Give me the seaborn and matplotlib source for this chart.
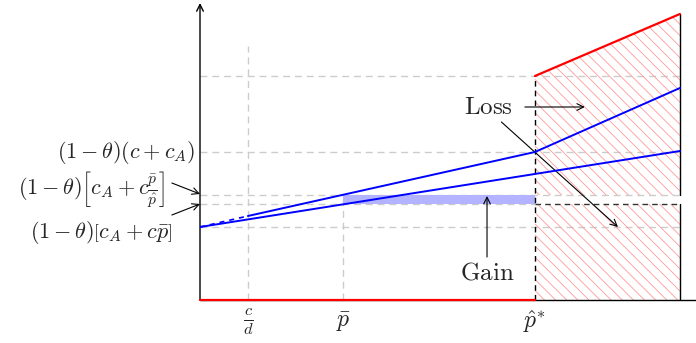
import matplotlib
matplotlib.use("Agg")
import matplotlib.pyplot as plt
import seaborn as sns

# x positions (p axis), hat p* = 1
x_cd = 0.143
x_pbar = 0.427
x_phat = 1.0
x_end = 1.433

# y levels
y_start = 0.73          # (1-theta) c_A
y_low_pbar = 0.96       # (1-theta)[c_A + c pbar]
y_up_pbar = 1.05        # (1-theta)[c_A + c pbar/phat]
y_phat = 1.48           # (1-theta)(c + c_A)
y_red_left = 2.24
y_red_right = 2.86

# series
upper_dash_x = [0.0, x_cd]
upper_dash_y = [y_start, 0.84]
upper_x = [x_cd, x_phat, x_end]
upper_y = [0.84, y_phat, 2.12]
lower_x = [0.0, x_end]
lower_y = [y_start, 1.49]
red_top_x = [x_phat, x_end]
red_top_y = [y_red_left, y_red_right]

tick_pos = [x_cd, x_pbar, x_phat]
tick_labels = [r"$\frac{c}{d}$", r"$\bar{p}$", r"$\hat{p}^{*}$"]

sns.set_theme(style="white")
plt.rcParams["mathtext.fontset"] = "cm"
plt.rcParams["hatch.linewidth"] = 0.6

fig = plt.figure(figsize=(6.96, 3.43), dpi=100)
ax = fig.add_axes([200 / 696, 43 / 343, 496 / 696, 300 / 343])
ax.set_xlim(0, 1.481)
ax.set_ylim(0, 3.0)
ax.axis("off")

grey = "#cccccc"
gdash = dict(color=grey, lw=1, dashes=(5, 3.5), zorder=1)

# grid guides
for yv in [y_red_left, y_phat, y_up_pbar, y_start]:
    ax.plot([0, x_end], [yv, yv], **gdash)
ax.plot([0, x_phat], [y_low_pbar, y_low_pbar], **gdash)
ax.plot([x_cd, x_cd], [0, 2.54], **gdash)
ax.plot([x_pbar, x_pbar], [0, y_up_pbar], **gdash)

# hatched loss regions
ax.fill([x_phat, x_end, x_end, x_phat],
        [y_red_left, y_red_right, y_up_pbar, y_up_pbar],
        facecolor="none", edgecolor="#ff9a9a", hatch="\\\\\\", lw=0, zorder=2)
ax.fill([x_phat, x_end, x_end, x_phat],
        [y_low_pbar, y_low_pbar, 0, 0],
        facecolor="none", edgecolor="#ff9a9a", hatch="\\\\\\", lw=0, zorder=2)

# gain band
ax.fill_between([x_pbar, x_phat], y_low_pbar, y_up_pbar,
                color="#b3b3ff", lw=0, zorder=3)

# region borders
ax.plot([x_phat, x_phat], [0, y_red_left], color="black", lw=1,
        dashes=(4, 3), zorder=4)
ax.plot([x_phat, x_end], [y_low_pbar, y_low_pbar], color="#333333", lw=1,
        dashes=(4, 3), zorder=4)
ax.plot([x_end, x_end], [y_up_pbar, y_red_right], color="black", lw=1, zorder=4)
ax.plot([x_end, x_end], [0, y_low_pbar], color="black", lw=1, zorder=4)

# axes
ax.plot([0, 1.481], [0, 0], color="black", lw=1, zorder=4, clip_on=False)
ax.annotate("", xy=(0, 2.97), xytext=(0, 0),
            arrowprops=dict(arrowstyle="->", lw=1, color="black",
                            shrinkA=0, shrinkB=0), annotation_clip=False)
ax.plot([0, x_phat], [0, 0], color="red", lw=1.6, zorder=5, clip_on=False)
sns.lineplot(x=red_top_x, y=red_top_y, color="red", lw=1.6, ax=ax,
             sort=False, estimator=None, zorder=5)

# blue lines
sns.lineplot(x=lower_x, y=lower_y, color="blue", lw=1.4, ax=ax,
             sort=False, estimator=None, zorder=6)
sns.lineplot(x=upper_x, y=upper_y, color="blue", lw=1.4, ax=ax,
             sort=False, estimator=None, zorder=6)
ax.plot(upper_dash_x, upper_dash_y, color="blue", lw=1.2, dashes=(3, 3),
        zorder=6)

fs = 16
for xp, lab in zip(tick_pos, tick_labels):
    ax.text(xp, -0.22, lab, ha="center", va="center", fontsize=17)

# left labels
ax.text(-0.015, y_phat, r"$(1-\theta)(c+c_A)$", ha="right", va="center",
        fontsize=fs)
ax.text(-0.105, 1.10, r"$(1-\theta)\left[c_A+c\frac{\bar{p}}{\hat{p}}\right]$",
        ha="right", va="center", fontsize=fs)
ax.text(-0.084, 0.68, r"$(1-\theta)\left[c_A+c\bar{p}\right]$",
        ha="right", va="center", fontsize=fs)
arr = dict(arrowstyle="->", lw=0.8, color="black", shrinkA=0, shrinkB=0)
ax.annotate("", xy=(0, 1.06), xytext=(-0.084, 1.17), arrowprops=arr,
            annotation_clip=False)
ax.annotate("", xy=(0, 0.96), xytext=(-0.084, 0.85), arrowprops=arr,
            annotation_clip=False)

# Loss / Gain
ax.text(0.86, 1.93, r"$\mathrm{Loss}$", ha="center", va="center", fontsize=18)
ax.annotate("", xy=(1.149, 1.93), xytext=(0.97, 1.93), arrowprops=arr)
ax.annotate("", xy=(1.248, 0.73), xytext=(0.90, 1.78), arrowprops=arr)
ax.text(0.857, 0.28, r"$\mathrm{Gain}$", ha="center", va="center", fontsize=18)
ax.annotate("", xy=(0.857, 1.04), xytext=(0.857, 0.43), arrowprops=arr)

fig.savefig("out.png", dpi=100)
